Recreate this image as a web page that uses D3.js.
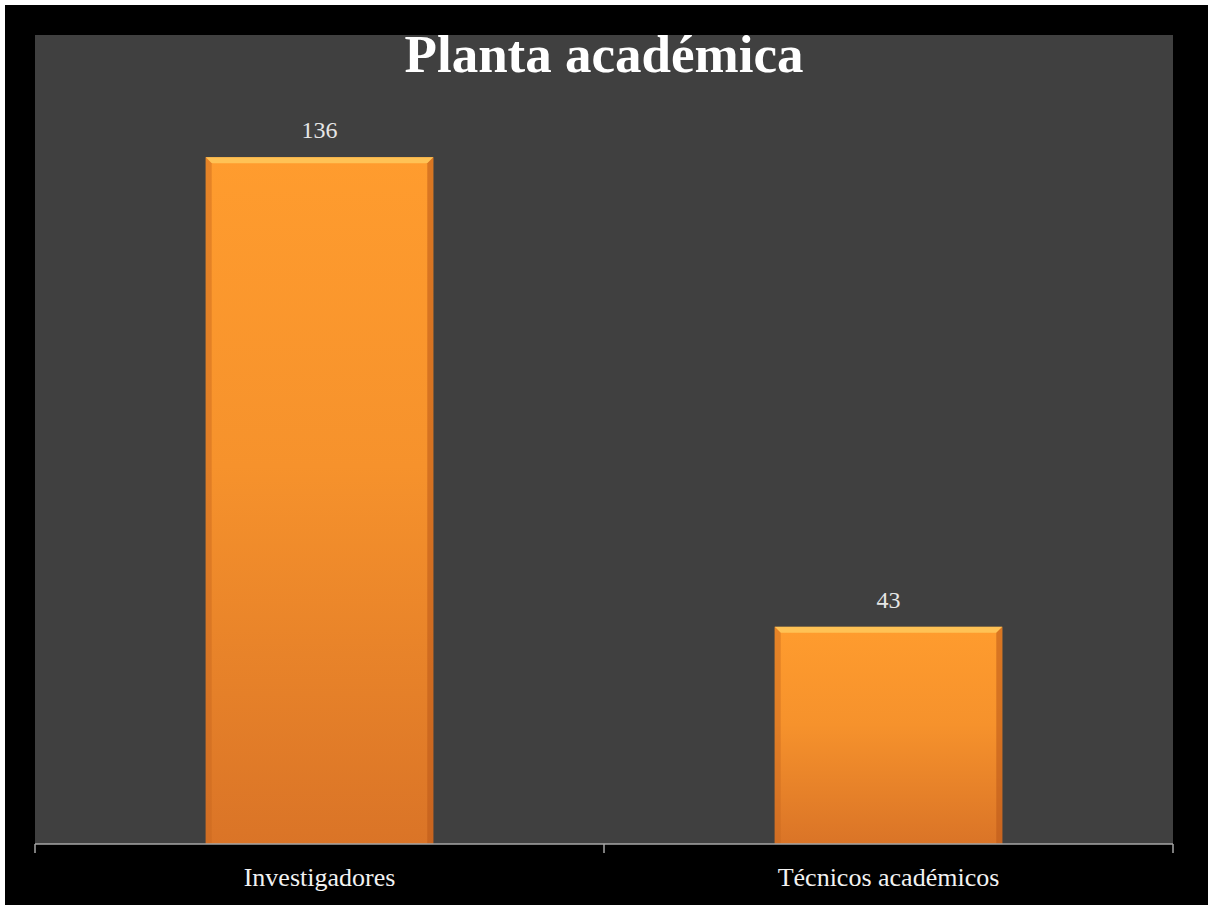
<!DOCTYPE html>
<html>
<head>
<meta charset="utf-8">
<script src="https://cdn.jsdelivr.net/npm/d3@7"></script>
<style>
  html, body { margin: 0; background: #fff; overflow: hidden; }
  svg { display: block; }
</style>
</head>
<body>
<div id="chart"></div>
<script>
const categories = ["Investigadores", "Técnicos académicos"];
const values = [136, 43];
const title = "Planta académica";

const width = 1208,
  height = 905;
const plot = { left: 35, right: 1173, top: 35, bottom: 844 };
const serif = "'Liberation Serif', 'DejaVu Serif', serif";

const svg = d3
  .select("#chart")
  .append("svg")
  .attr("width", width)
  .attr("height", height);

// black slide background (white strip top/left like the source image)
svg.append("rect")
  .attr("x", 5).attr("y", 5)
  .attr("width", width - 5).attr("height", height - 5)
  .attr("fill", "#000");

svg.append("rect")
  .attr("x", plot.left).attr("y", plot.top)
  .attr("width", plot.right - plot.left)
  .attr("height", plot.bottom - plot.top)
  .attr("fill", "#404040");

const defs = svg.append("defs");
const grad = defs.append("linearGradient")
  .attr("id", "barGrad")
  .attr("x1", 0).attr("y1", 0).attr("x2", 0).attr("y2", 1);
grad.append("stop").attr("offset", "0%").attr("stop-color", "#ff9c2e");
grad.append("stop").attr("offset", "45%").attr("stop-color", "#f6922c");
grad.append("stop").attr("offset", "100%").attr("stop-color", "#da7427");

const x = d3.scaleBand()
  .domain(categories)
  .range([plot.left, plot.right])
  .paddingInner(0.6)
  .paddingOuter(0.3);

const y = d3.scaleLinear().domain([0, 160]).range([plot.bottom, plot.top + 1]);

const data = categories.map((c, i) => ({ cat: c, value: values[i] }));
const bevel = 6;

const bars = svg.selectAll("g.bar")
  .data(data)
  .join("g")
  .attr("class", "bar");

bars.append("rect")
  .attr("x", (d) => x(d.cat))
  .attr("y", (d) => y(d.value))
  .attr("width", x.bandwidth())
  .attr("height", (d) => y(0) - y(d.value))
  .attr("fill", "url(#barGrad)");

// top bevel
bars.append("path")
  .attr("d", (d) => {
    const x0 = x(d.cat), x1 = x0 + x.bandwidth(), y0 = y(d.value);
    return `M${x0},${y0}L${x1},${y0}L${x1 - bevel},${y0 + bevel}L${x0 + bevel},${y0 + bevel}Z`;
  })
  .attr("fill", "#ffc65a")
  .attr("opacity", 0.9);

// side bevels
bars.append("path")
  .attr("d", (d) => {
    const x0 = x(d.cat), y0 = y(d.value), y1 = y(0);
    return `M${x0},${y0}L${x0 + bevel},${y0 + bevel}L${x0 + bevel},${y1}L${x0},${y1}Z`;
  })
  .attr("fill", "#c8651e")
  .attr("opacity", 0.45);
bars.append("path")
  .attr("d", (d) => {
    const x1 = x(d.cat) + x.bandwidth(), y0 = y(d.value), y1 = y(0);
    return `M${x1},${y0}L${x1 - bevel},${y0 + bevel}L${x1 - bevel},${y1}L${x1},${y1}Z`;
  })
  .attr("fill", "#b9581a")
  .attr("opacity", 0.55);

// value labels
bars.append("text")
  .attr("x", (d) => x(d.cat) + x.bandwidth() / 2)
  .attr("y", (d) => y(d.value) - 19)
  .attr("text-anchor", "middle")
  .attr("fill", "#e6e6e6")
  .style("font-family", serif)
  .style("font-size", "24px")
  .text((d) => d.value);

// x axis
const axisG = svg.append("g")
  .attr("transform", `translate(0,${plot.bottom})`);
axisG.append("line")
  .attr("x1", plot.left).attr("x2", plot.right)
  .attr("stroke", "#a6a6a6").attr("stroke-width", 1.5);

const tickPos = [plot.left].concat(categories.map((c) => x(c) + x.bandwidth() / 2 + x.step() / 2));
axisG.selectAll("line.tick")
  .data(tickPos)
  .join("line")
  .attr("class", "tick")
  .attr("x1", (d) => d).attr("x2", (d) => d)
  .attr("y1", 0).attr("y2", 9)
  .attr("stroke", "#a6a6a6").attr("stroke-width", 1.5);

axisG.selectAll("text.cat")
  .data(categories)
  .join("text")
  .attr("class", "cat")
  .attr("x", (d) => x(d) + x.bandwidth() / 2)
  .attr("y", 42)
  .attr("text-anchor", "middle")
  .attr("fill", "#f2f2f2")
  .style("font-family", serif)
  .style("font-size", "26px")
  .text((d) => d);

// title
svg.append("text")
  .attr("x", 604)
  .attr("y", 72)
  .attr("text-anchor", "middle")
  .attr("fill", "#ffffff")
  .style("font-family", serif)
  .style("font-weight", "bold")
  .style("font-size", "53px")
  .text(title);
</script>
</body>
</html>
